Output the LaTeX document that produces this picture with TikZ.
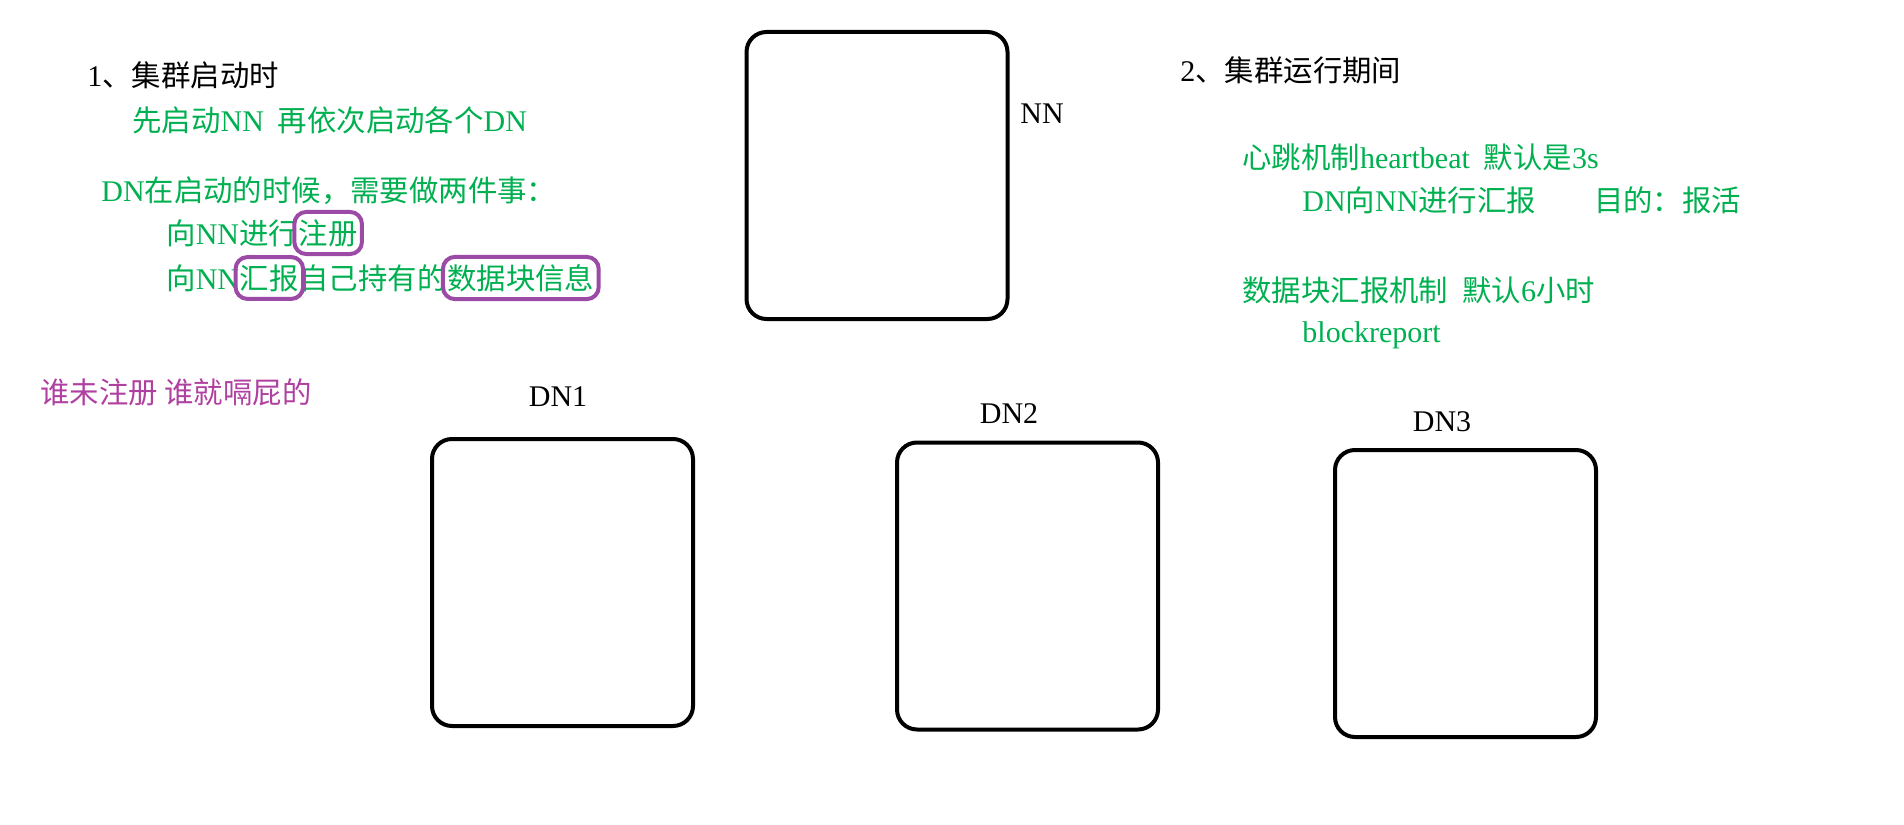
\documentclass[tikz,border=0pt]{standalone}
\usepackage{fontspec}
\setmainfont{Liberation Serif}
\newfontfamily\cjk[Scale=0.98]{Noto Sans CJK SC}
\newcommand\zhs[1]{{\cjk #1}}
\usetikzlibrary{fit}
\definecolor{txtgreen}{RGB}{0,176,80}
\definecolor{hlpurple}{RGB}{155,75,165}
\definecolor{notepurple}{RGB}{176,64,160}
\tikzset{
  txt/.style={anchor=west, inner sep=0pt, font=\fontsize{15pt}{18pt}\selectfont},
  gtxt/.style={txt, text=txtgreen},
  lbl/.style={inner sep=0pt, font=\fontsize{15pt}{18pt}\selectfont},
  srv/.style={draw=black, line width=2pt, rounded corners=10pt, minimum width=130.5pt, minimum height=143.5pt, inner sep=0pt},
  hl/.style={draw=hlpurple, line width=2pt, rounded corners=6pt, inner xsep=2pt, inner ysep=3.5pt}
}
\begin{document}
\begin{tikzpicture}[x=0.5pt, y=-0.5pt]
\useasboundingbox (0,0) rectangle (1904,824);
% left column
\node[txt] (t1) at (87,75) {1\zhs{、集群启动时}};
\node[gtxt] (t2) at (132,120) {\zhs{先启动}NN\hspace{7pt}\zhs{再依次启动各个}DN};
\node[gtxt] (t3) at (101,191) {DN\zhs{在启动的时候，需要做两件事：}};
\node[gtxt] (t4a) at (166,233) {\zhs{向}NN\zhs{进行}};
\node[gtxt] (t4b) at (t4a.east) {\zhs{注册}};
\node[gtxt] (t5a) at (166,278) {\zhs{向}NN};
\node[gtxt] (t5b) at (t5a.east) {\zhs{汇报}};
\node[gtxt] (t5c) at (t5b.east) {\zhs{自己持有的}};
\node[gtxt] (t5d) at (t5c.east) {\zhs{数据块信息}};
\node[hl, fit=(t4b)] (h1) {};
\node[hl, fit=(t5b)] (h2) {};
\node[hl, fit=(t5d)] (h3) {};
\node[txt, text=notepurple] (t6) at (40,392) {\zhs{谁未注册 谁就嗝屁的}};
% right column
\node[txt] (r1) at (1180,70) {2\zhs{、集群运行期间}};
\node[gtxt] (r2) at (1242,157) {\zhs{心跳机制}heartbeat\hspace{7pt}\zhs{默认是}3s};
\node[gtxt] (r3) at (1302,200) {DN\zhs{向}NN\zhs{进行汇报}\hspace{29pt}\zhs{目的：报活}};
\node[gtxt] (r4) at (1242,290) {\zhs{数据块汇报机制}\hspace{7pt}\zhs{默认}6\zhs{小时}};
\node[gtxt] (r5) at (1302,335) {blockreport};
% servers
\node[srv] (nn) at (877,175.5) {};
\node[txt] (nnl) at (1020,114) {NN};
\node[srv] (dn1) at (562.5,582.5) {};
\node[srv] (dn2) at (1027.5,586) {};
\node[srv] (dn3) at (1465.5,593.5) {};
\node[lbl] (dn1l) at (558,397) {DN1};
\node[lbl] (dn2l) at (1009,414) {DN2};
\node[lbl] (dn3l) at (1442,422) {DN3};
\end{tikzpicture}
\end{document}
